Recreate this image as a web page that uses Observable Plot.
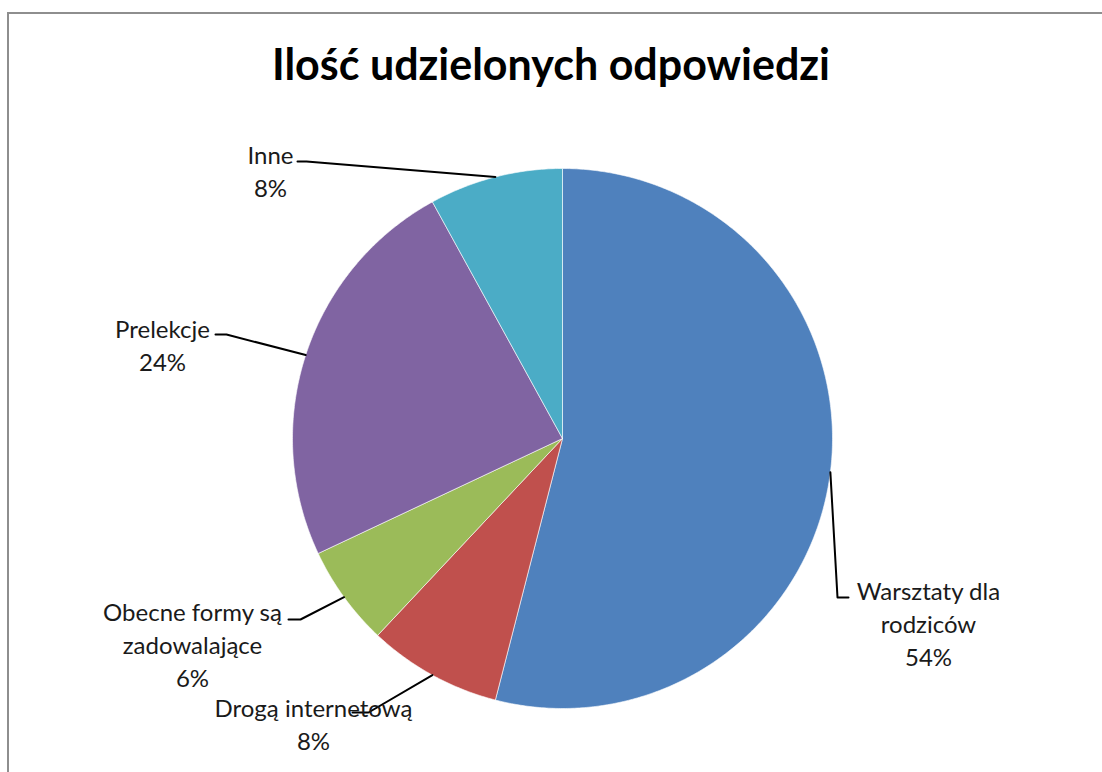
<!DOCTYPE html>
<html>
<head>
<meta charset="utf-8">
<script src="https://cdn.jsdelivr.net/npm/d3@7"></script>
<script src="https://cdn.jsdelivr.net/npm/@observablehq/plot@0.6"></script>
<style>
  body { margin: 0; background: #fff; }
  #wrap { position: relative; width: 1102px; height: 772px; overflow: hidden; font-family: Lato, "Open Sans", sans-serif; }
  #frame { position: absolute; left: 7px; top: 12px; width: 1300px; height: 1000px; border: 2px solid #8e8e8e; box-sizing: border-box; }
  #title { position: absolute; left: 0; top: 42px; width: 1102px; text-align: center; font: 700 43px/43px Lato, sans-serif; color: #000; }
  #chart { position: absolute; left: 0; top: 0; }
</style>
</head>
<body>
<div id="wrap">
  <div id="frame"></div>
  <div id="chart"></div>
  <div id="title">Ilość udzielonych odpowiedzi</div>
</div>
<script>
// ---- data ----
const categories = ["Warsztaty dla rodziców", "Drogą internetową", "Obecne formy są zadowalające", "Prelekcje", "Inne"];
const counts = [27, 4, 3, 12, 4];
const labelLines = ["Warsztaty dla\nrodziców", "Drogą internetową", "Obecne formy są\nzadowalające", "Prelekcje", "Inne"];

// ---- styles ----
const colors = ["#4F81BD", "#C0504D", "#9BBB59", "#8064A2", "#4BACC6"];

// ---- layout (pixels) ----
const W = 1102, H = 772;
const cx = 562, cy = 438, R = 270;
// text block centre and leader-line label-side points for each category
const labelLayout = [
  {tx: 928, ty: 622, leader: [[848, 597], [837, 597]]},
  {tx: 313, ty: 722, leader: [[352, 712], [368, 712]]},
  {tx: 192, ty: 643, leader: [[288, 619], [300, 619]]},
  {tx: 162, ty: 343, leader: [[215, 334], [226, 334]]},
  {tx: 270, ty: 169, leader: [[297, 161], [306, 161]]}
];

const total = d3.sum(counts);
const rows = categories.map((name, i) => ({name, count: counts[i], pct: Math.round(counts[i] / total * 100) + "%", label: labelLines[i]}));
const arcs = d3.pie().sort(null).value(d => d.count).startAngle(0).endAngle(2 * Math.PI)(rows);

const pt = (a, r) => [cx + r * Math.sin(a), cy - r * Math.cos(a)];

// slice polygons
const slicePts = [];
arcs.forEach(a => {
  const n = Math.max(4, Math.ceil((a.endAngle - a.startAngle) / (Math.PI / 360)));
  slicePts.push({name: a.data.name, x: cx, y: cy});
  for (let k = 0; k <= n; k++) {
    const ang = a.startAngle + (a.endAngle - a.startAngle) * k / n;
    const [x, y] = pt(ang, R);
    slicePts.push({name: a.data.name, x, y});
  }
  slicePts.push({name: a.data.name, x: cx, y: cy});
});

// leader lines: label side -> elbow -> slice edge at mid-angle
const leaderPts = [];
arcs.forEach((a, i) => {
  const mid = (a.startAngle + a.endAngle) / 2;
  const [ex, ey] = pt(mid, R);
  labelLayout[i].leader.forEach(([x, y]) => leaderPts.push({name: a.data.name, x, y}));
  leaderPts.push({name: a.data.name, x: ex, y: ey});
});

const labels = arcs.map((a, i) => ({x: labelLayout[i].tx, y: labelLayout[i].ty, text: a.data.label + "\n" + a.data.pct}));

const fs = 24;
const chart = Plot.plot({
  width: W, height: H,
  margin: 0,
  style: {background: "transparent", overflow: "visible"},
  x: {domain: [0, W], range: [0, W], axis: null},
  y: {domain: [0, H], range: [0, H], axis: null},
  color: {domain: categories, range: colors},
  marks: [
    Plot.line(slicePts, {x: "x", y: "y", z: "name", fill: "name", stroke: "white", strokeWidth: 0.6, curve: "linear"}),
    Plot.line(leaderPts, {x: "x", y: "y", z: "name", stroke: "#000", strokeWidth: 2}),
    Plot.text(labels, {x: "x", y: "y", text: "text", fontSize: fs, lineHeight: 33 / fs, fill: "#1a1a1a", fontFamily: "Lato, sans-serif", textAnchor: "middle"})
  ]
});
document.getElementById("chart").appendChild(chart);
</script>
</body>
</html>
